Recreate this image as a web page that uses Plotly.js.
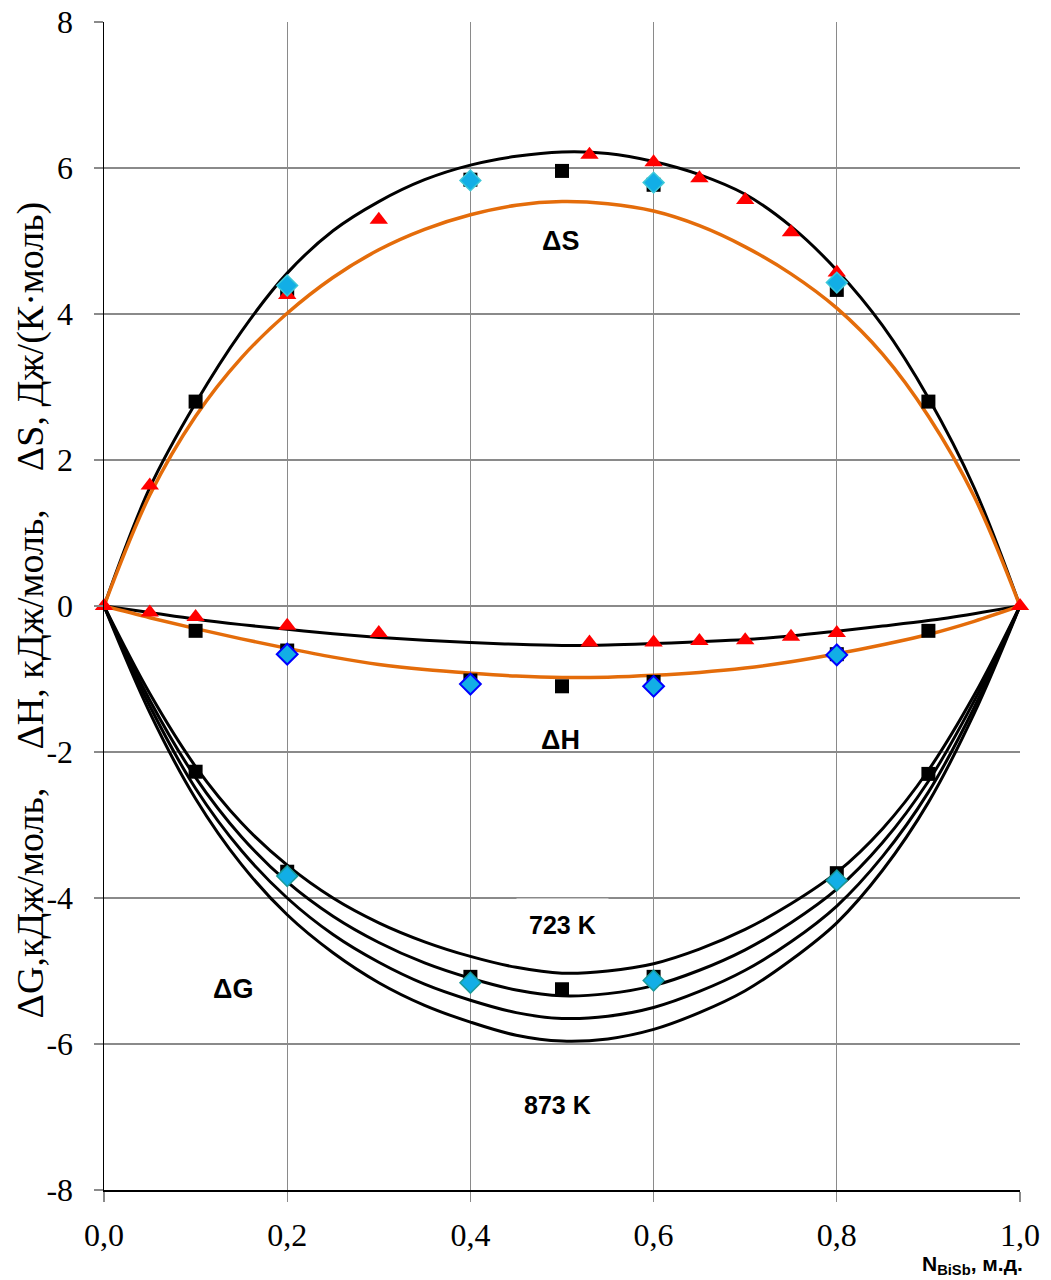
<!DOCTYPE html>
<html>
<head>
<meta charset="utf-8">
<script src="https://cdn.plot.ly/plotly-3.0.1.min.js"></script>
<style>html,body{margin:0;padding:0;background:#fff;}</style>
</head>
<body>
<div id="chart" style="width:1051px;height:1280px;"></div>
<script>
// ---- axis ticks ----
const xTickVals = [0, 0.2, 0.4, 0.6, 0.8, 1.0];
const xTickText = ['0,0', '0,2', '0,4', '0,6', '0,8', '1,0'];
const yTickVals = [-8, -6, -4, -2, 0, 2, 4, 6, 8];
const yTickText = ['-8', '-6', '-4', '-2', '0', '2', '4', '6', '8'];

// ---- smooth curves ----
const xCurve = [0, 0.05, 0.1, 0.15, 0.2, 0.25, 0.3, 0.35, 0.4, 0.45, 0.5, 0.55, 0.6, 0.65, 0.7, 0.75, 0.8, 0.85, 0.9, 0.95, 1.0];
const dS_black = [0, 1.62, 2.78, 3.76, 4.56, 5.14, 5.54, 5.84, 6.04, 6.16, 6.22, 6.2, 6.09, 5.91, 5.64, 5.2, 4.6, 3.84, 2.85, 1.62, 0];
const dS_orange = [0, 1.52, 2.6, 3.4, 4.01, 4.5, 4.88, 5.16, 5.36, 5.49, 5.54, 5.51, 5.41, 5.21, 4.92, 4.55, 4.08, 3.45, 2.6, 1.5, 0];
const dH_black = [0, -0.09, -0.18, -0.255, -0.32, -0.38, -0.43, -0.47, -0.5, -0.525, -0.54, -0.535, -0.515, -0.49, -0.46, -0.41, -0.345, -0.275, -0.2, -0.105, 0];
const dH_orange = [0, -0.16, -0.31, -0.45, -0.58, -0.7, -0.8, -0.87, -0.92, -0.96, -0.98, -0.975, -0.95, -0.91, -0.85, -0.765, -0.655, -0.53, -0.39, -0.21, 0];
const dG_723 = [0, -1.2, -2.2, -2.97, -3.55, -4.0, -4.34, -4.6, -4.8, -4.95, -5.03, -5.0, -4.9, -4.7, -4.43, -4.08, -3.65, -3.05, -2.25, -1.22, 0];
const dG_773 = [0, -1.29, -2.35, -3.16, -3.78, -4.25, -4.61, -4.89, -5.1, -5.26, -5.34, -5.31, -5.2, -4.99, -4.71, -4.34, -3.88, -3.24, -2.4, -1.3, 0];
const dG_823 = [0, -1.37, -2.5, -3.35, -4.0, -4.5, -4.88, -5.18, -5.4, -5.57, -5.65, -5.62, -5.5, -5.28, -4.99, -4.6, -4.11, -3.43, -2.55, -1.39, 0];
const dG_873 = [0, -1.46, -2.64, -3.54, -4.23, -4.75, -5.16, -5.47, -5.7, -5.88, -5.96, -5.93, -5.8, -5.57, -5.27, -4.85, -4.34, -3.62, -2.69, -1.47, 0];

// ---- experimental points ----
const sqS_x = [0.1, 0.2, 0.4, 0.5, 0.6, 0.8, 0.9];
const sqS_y = [2.8, 4.33, 5.84, 5.96, 5.77, 4.33, 2.8];
const sqH_x = [0.1, 0.2, 0.4, 0.5, 0.6, 0.8, 0.9];
const sqH_y = [-0.34, -0.61, -1.02, -1.1, -1.04, -0.66, -0.34];
const sqG_x = [0.1, 0.2, 0.4, 0.5, 0.6, 0.8, 0.9];
const sqG_y = [-2.27, -3.64, -5.08, -5.25, -5.08, -3.66, -2.3];

const triS_x = [0.05, 0.2, 0.3, 0.53, 0.6, 0.65, 0.7, 0.75, 0.8];
const triS_y = [1.65, 4.26, 5.29, 6.18, 6.08, 5.86, 5.56, 5.12, 4.57];
const triH_x = [0, 0.05, 0.1, 0.2, 0.3, 0.53, 0.6, 0.65, 0.7, 0.75, 0.8, 1.0];
const triH_y = [0, -0.09, -0.15, -0.27, -0.37, -0.5, -0.5, -0.48, -0.47, -0.42, -0.37, 0];

const diaS_x = [0.2, 0.4, 0.6, 0.8];
const diaS_y = [4.39, 5.83, 5.8, 4.43];
const diaH_x = [0.2, 0.4, 0.6, 0.8];
const diaH_y = [-0.66, -1.07, -1.1, -0.67];
const diaG_x = [0.2, 0.4, 0.6, 0.8];
const diaG_y = [-3.7, -5.16, -5.13, -3.76];

const BLACK = '#000000', ORANGE = '#E46C0A', RED = '#FF0000', CYAN = '#12AEE6';

function line(x, y, color, w) {
  return {x: x, y: y, type: 'scatter', mode: 'lines', line: {color: color, width: w, shape: 'spline', smoothing: 1.0}, hoverinfo: 'skip'};
}
function pts(x, y, symbol, size, color, lc, lw) {
  return {x: x, y: y, type: 'scatter', mode: 'markers', cliponaxis: false,
    marker: {symbol: symbol, size: size, color: color, line: {color: lc, width: lw}}};
}

const data = [
  line(xCurve, dS_black, BLACK, 3),
  line(xCurve, dS_orange, ORANGE, 3.5),
  line(xCurve, dH_black, BLACK, 3),
  line(xCurve, dH_orange, ORANGE, 3.5),
  line(xCurve, dG_723, BLACK, 3),
  line(xCurve, dG_773, BLACK, 3),
  line(xCurve, dG_823, BLACK, 3),
  line(xCurve, dG_873, BLACK, 3),
  pts(sqS_x, sqS_y, 'square', 14, BLACK, BLACK, 0),
  pts(sqH_x, sqH_y, 'square', 14, BLACK, BLACK, 0),
  pts(sqG_x, sqG_y, 'square', 14, BLACK, BLACK, 0),
  pts(triS_x, triS_y, 'triangle-up', 16, RED, RED, 0),
  pts(triH_x, triH_y, 'triangle-up', 16, RED, RED, 0),
  pts(diaS_x, diaS_y, 'diamond', 16, CYAN, '#3CC8D8', 1.5),
  pts(diaH_x, diaH_y, 'diamond', 16, CYAN, '#0000FF', 2),
  pts(diaG_x, diaG_y, 'diamond', 16, CYAN, '#1A9A9A', 1.5)
];

const serif = 'Liberation Serif, Times New Roman, serif';
const sansB = 'Liberation Sans, Arial, sans-serif';

const layout = {
  width: 1051, height: 1280,
  margin: {l: 104, r: 31, t: 22, b: 90},
  paper_bgcolor: '#ffffff', plot_bgcolor: '#ffffff',
  showlegend: false,
  xaxis: {
    range: [0, 1], tickvals: xTickVals, ticktext: xTickText,
    showgrid: true, gridcolor: '#8a8a8a', gridwidth: 1.3, zeroline: false,
    showline: true, linecolor: '#000000', linewidth: 1.5,
    ticks: 'outside', ticklen: 10, tickcolor: '#8a8a8a', tickwidth: 1.3,
    ticklabelstandoff: 6,
    tickfont: {family: serif, size: 32, color: '#000'}
  },
  yaxis: {
    range: [-8, 8], tickvals: yTickVals, ticktext: yTickText,
    showgrid: true, gridcolor: '#8a8a8a', gridwidth: 1.3, zeroline: false,
    showline: true, linecolor: '#000000', linewidth: 1.5,
    ticks: 'outside', ticklen: 9, tickcolor: '#8a8a8a', tickwidth: 1.3,
    ticklabelstandoff: 14,
    tickfont: {family: serif, size: 32, color: '#000'}
  },
  annotations: [
    {xref: 'paper', yref: 'paper', x: -0.0797, y: 0.497, xanchor: 'center', yanchor: 'middle', showarrow: false, textangle: -90,
     text: 'ΔG,кДж/моль,\u00A0\u00A0\u00A0 ΔH, кДж/моль,\u00A0\u00A0\u00A0 ΔS, Дж/(К·моль)', font: {family: serif, size: 38, color: '#000'}},
    {xref: 'x', yref: 'y', x: 0.498, y: 5.0, showarrow: false, text: 'ΔS', font: {family: sansB, size: 27, color: '#000', weight: 'bold'}},
    {xref: 'x', yref: 'y', x: 0.498, y: -1.84, showarrow: false, text: 'ΔH', font: {family: sansB, size: 27, color: '#000', weight: 'bold'}},
    {xref: 'x', yref: 'y', x: 0.141, y: -5.25, showarrow: false, text: 'ΔG', font: {family: sansB, size: 27, color: '#000', weight: 'bold'}},
    {xref: 'x', yref: 'y', x: 0.5, y: -4.37, showarrow: false, text: '723 K', bgcolor: '#ffffff', borderpad: 12,
     font: {family: sansB, size: 25, color: '#000', weight: 'bold'}},
    {xref: 'x', yref: 'y', x: 0.495, y: -6.84, showarrow: false, text: '873 K', font: {family: sansB, size: 25, color: '#000', weight: 'bold'}},
    {xref: 'paper', yref: 'paper', x: 1.006, y: -0.064, xanchor: 'right', yanchor: 'middle', showarrow: false,
     text: 'N<sub>BiSb</sub>, м.д.', font: {family: sansB, size: 21, color: '#000', weight: 'bold'}}
  ]
};

Plotly.newPlot('chart', data, layout, {displayModeBar: false, staticPlot: true});
</script>
</body>
</html>
